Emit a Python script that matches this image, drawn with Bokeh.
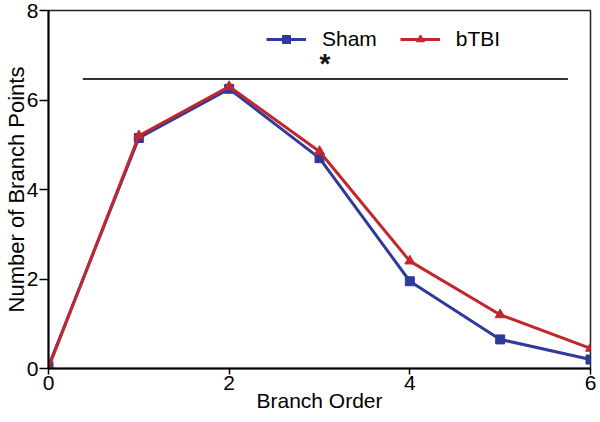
from bokeh.plotting import figure
from bokeh.embed import file_html
from bokeh.resources import INLINE
from bokeh.models import Range1d, FixedTicker, Legend, LegendItem
from bokeh.core.properties import value

branch_order = [0, 1, 2, 3, 4, 5, 6]
sham = [0.05, 5.15, 6.25, 4.70, 1.95, 0.65, 0.20]
btbi = [0.02, 5.20, 6.30, 4.85, 2.40, 1.20, 0.45]
sig_x = [0.38, 5.75]
sig_y = 6.47
star_x = [3.06]
star_y = [6.47]
x_ticks = [0, 2, 4, 6]
y_ticks = [0, 2, 4, 6, 8]

FONT = "Liberation Sans"
BLUE = "#2e3a9c"
RED = "#c1272d"

p = figure(width=596, height=414, output_backend="svg", toolbar_location=None,
           x_range=Range1d(0, 6), y_range=Range1d(0, 8),
           min_border_left=40, min_border_right=6, min_border_top=10, min_border_bottom=44)
p.xgrid.visible = False
p.ygrid.visible = False
p.outline_line_color = "#222222"
p.outline_line_width = 1.5
p.background_fill_color = "white"
p.border_fill_color = "white"

for ax in (p.xaxis[0], p.yaxis[0]):
    ax.axis_line_color = "black"
    ax.axis_line_width = 2
    ax.major_tick_line_color = "black"
    ax.major_tick_line_width = 1.5
    ax.minor_tick_line_color = None
    ax.major_tick_in = 0
    ax.major_label_text_font = FONT
    ax.major_label_text_font_size = "21px"
    ax.major_label_text_color = "black"
    ax.axis_label_text_font = FONT
    ax.axis_label_text_font_style = "normal"
    ax.axis_label_text_color = "black"

p.xaxis.axis_label_text_font_size = "21px"
p.yaxis.axis_label_text_font_size = "22px"
p.xaxis.ticker = FixedTicker(ticks=x_ticks)
p.yaxis.ticker = FixedTicker(ticks=y_ticks)
p.xaxis.major_tick_out = 6
p.yaxis.major_tick_out = 9
p.xaxis.major_label_standoff = 1
p.yaxis.major_label_standoff = 1
p.xaxis.axis_label = "Branch Order"
p.yaxis.axis_label = "Number of Branch Points"
p.xaxis.axis_label_standoff = -4
p.yaxis.axis_label_standoff = -5

# significance bar and star
p.line(sig_x, [sig_y, sig_y], line_color="#333333", line_width=2)
p.text(star_x, star_y, text=["*"], text_font=value(FONT), text_font_size="28px",
       text_font_style="bold", text_align="center", text_baseline="bottom", text_color="#111111")

l1 = p.line(branch_order, sham, line_color=BLUE, line_width=3)
s1 = p.scatter(branch_order, sham, marker="square", size=9, fill_color=BLUE, line_color=BLUE)
l2 = p.line(branch_order, btbi, line_color=RED, line_width=3)
s2 = p.scatter(branch_order, btbi, marker="triangle", size=10, fill_color=RED, line_color=RED)

legend = Legend(items=[LegendItem(label="Sham", renderers=[l1, s1]),
                       LegendItem(label="bTBI", renderers=[l2, s2])],
                orientation="horizontal", location=(218, 317),
                border_line_color=None, background_fill_alpha=0,
                padding=0, margin=0, spacing=23, glyph_width=40, glyph_height=20,
                label_standoff=16, label_text_font=FONT, label_text_font_size="21px",
                label_text_color="black")
p.add_layout(legend)

open("out.html", "w").write(file_html(p, INLINE))
